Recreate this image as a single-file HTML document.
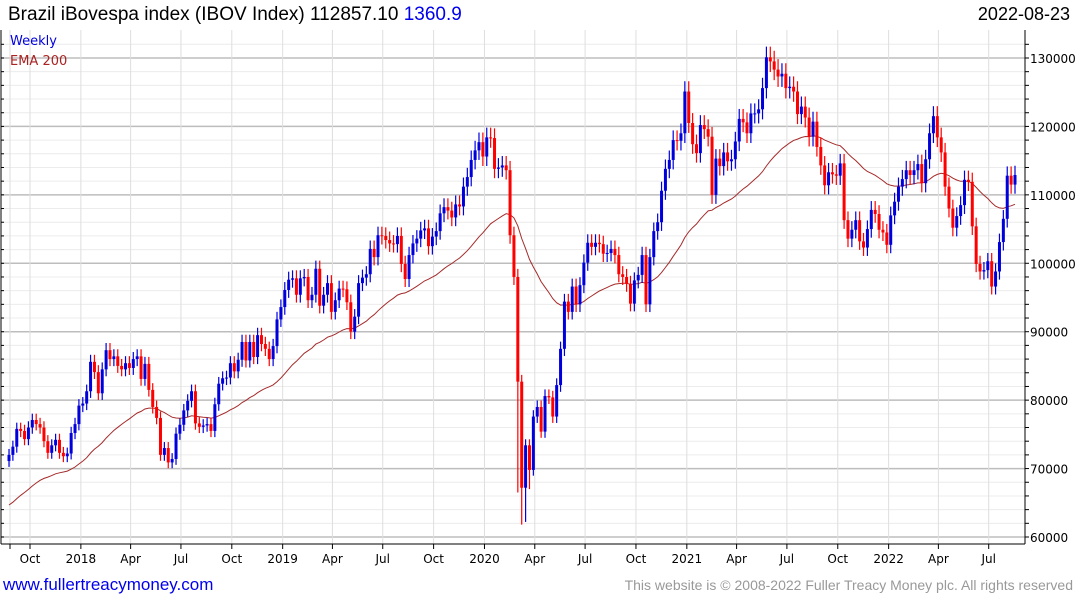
<!DOCTYPE html>
<html><head><meta charset="utf-8"><style>
html,body{margin:0;padding:0;background:#fff;}
svg{display:block;}
</style></head><body>
<svg id="chart" width="1075" height="600" xmlns="http://www.w3.org/2000/svg">
<text x="8" y="20" font-family="Liberation Sans, sans-serif" font-size="19" fill="#000">Brazil iBovespa index (IBOV Index) 112857.10 <tspan fill="#0000ee">1360.9</tspan></text>
<text x="1070" y="20" text-anchor="end" font-family="Liberation Sans, sans-serif" font-size="18" fill="#000">2022-08-23</text>
<g id="grid"></g>
<g id="ema"></g>
<g id="candles"></g>
<g id="axes"></g>
<text x="10" y="45" font-family="DejaVu Sans, sans-serif" font-size="13" fill="#0000dd">Weekly</text>
<text x="10" y="65" font-family="DejaVu Sans, sans-serif" font-size="13" fill="#aa2222">EMA 200</text>
<text x="3" y="590" font-family="Liberation Sans, sans-serif" font-size="17" fill="#0000ee">www.fullertreacymoney.com</text>
<text x="1073" y="590" text-anchor="end" font-family="Liberation Sans, sans-serif" font-size="14" fill="#999">This website is © 2008-2022 Fuller Treacy Money plc. All rights reserved</text>
</svg>
<script>
const closes = [
72.0,73.2,75.8,75.5,74.3,76.0,77.1,76.5,76.0,74.0,72.3,73.4,74.2,72.3,71.8,72.2,75.2,76.5,79.2,79.5,
81.3,85.6,84.1,81.0,84.5,87.3,86.0,86.4,85.0,84.5,85.4,84.7,86.0,86.4,83.1,85.3,81.5,79.0,77.4,72.0,
73.0,70.9,71.4,75.1,76.4,78.5,79.9,81.3,76.6,76.1,76.3,76.5,75.5,79.4,82.4,83.2,83.3,85.4,84.2,
85.9,88.5,85.8,88.5,86.3,89.5,88.2,87.5,86.0,87.9,91.8,93.6,96.1,97.6,97.8,95.4,97.8,98.0,94.6,95.4,
99.2,93.8,95.4,97.1,92.9,94.6,96.3,96.2,94.3,90.0,92.2,97.1,97.9,98.4,102.1,100.9,104.1,104.0,103.4,102.9,
102.8,104.0,99.9,97.7,101.2,102.9,103.6,104.8,105.1,102.5,103.9,104.7,107.3,108.2,107.7,106.7,108.6,108.3,111.2,112.6,
115.1,116.5,117.7,115.6,118.4,118.3,113.8,
114.0,114.3,113.6,104.1,98.0,82.7,67.2,73.4,69.8,77.6,79.0,75.4,80.6,80.4,77.6,82.2,87.5,94.4,92.9,96.6,
94.0,96.8,100.1,103.0,102.4,103.0,102.8,101.4,101.5,102.1,101.2,98.4,98.0,97.0,94.1,97.5,98.3,101.2,94.0,100.9,
104.7,106.0,110.6,113.8,115.1,118.0,117.9,119.0,
125.1,120.5,117.4,116.1,120.2,119.6,118.5,110.0,115.3,114.2,116.2,114.9,115.2,117.8,121.1,120.6,119.0,121.9,121.9,122.5,
125.6,130.1,129.5,128.3,127.3,127.7,125.6,125.8,125.1,121.8,122.9,121.3,118.5,120.7,117.0,114.3,111.4,113.3,113.0,112.8,
114.6,106.3,103.6,104.9,106.3,103.2,102.3,105.0,107.8,107.2,
104.9,104.5,102.7,107.0,109.0,111.2,112.3,113.6,112.9,113.6,114.5,111.7,115.2,119.0,121.5,118.4,116.2,111.2,108.0,105.2,
106.9,108.5,112.2,111.9,105.4,99.9,98.8,99.0,100.3,96.6,98.8,103.1,106.5,112.8,111.5,112.9
];
const firstOpen = [71.1];
const lowOverrideIdx = [131, 132, 133, 134];
const lowOverrideVal = [66.5, 61.8, 62.2, 67.0];
const emaSeed = [64.3];
const emaPeriod = [40];
const yTicks = [60000,70000,80000,90000,100000,110000,120000,130000];
const xTickLabels = ["Oct","2018","Apr","Jul","Oct","2019","Apr","Jul","Oct","2020","Apr","Jul","Oct","2021","Apr","Jul","Oct","2022","Apr","Jul"];
const xTickDates = ["2017-10-01","2018-01-01","2018-04-01","2018-07-01","2018-10-01","2019-01-01","2019-04-01","2019-07-01","2019-10-01","2020-01-01","2020-04-01","2020-07-01","2020-10-01","2021-01-01","2021-04-01","2021-07-01","2021-10-01","2022-01-01","2022-04-01","2022-07-01"];

const NS = "http://www.w3.org/2000/svg";
const L = 1, R = 1025, T = 30, B = 544;
function yScale(v){ return 537 - (v - 60000) / 10000 * 68.43; }
function xIdx(i){ return 9 + i * (1015 - 9) / (closes.length - 1); }
const d0 = Date.UTC(2017,9,1), d1 = Date.UTC(2022,6,1);
function xDate(s){ const p = s.split("-"); const t = Date.UTC(+p[0], +p[1]-1, +p[2]); return 30 + (t - d0) / (d1 - d0) * (988.7 - 30); }
function mk(tag, attrs, parent){ const e = document.createElementNS(NS, tag); for (const k in attrs) e.setAttribute(k, attrs[k]); parent.appendChild(e); return e; }

const grid = document.getElementById("grid");
for (let v = 60000; v <= 132000; v += 2000) {
  const y = yScale(v); if (y < T) continue;
  const major = v % 10000 === 0;
  const ln = mk("line", {x1:L, x2:R, y1:y, y2:y, stroke: major ? "#bdbdbd" : "#ececec", "stroke-width": major ? 1.5 : 1}, grid);
  
  
}
const vg0 = mk("line", {x1:10, x2:10, y1:T, y2:B, stroke:"#dedede"}, grid);


xTickDates.forEach((d) => {
  const x = xDate(d);
  const vg = mk("line", {x1:x, x2:x, y1:T, y2:B, stroke:"#dedede"}, grid);
  
  
});

// EMA
const alpha = 2 / (emaPeriod[0] + 1);
let e = emaSeed[0] * 1000, pts = [];
closes.forEach((c, i) => { e = e + alpha * (c * 1000 - e); pts.push(xIdx(i).toFixed(1) + "," + yScale(e).toFixed(1)); });
const emaLine = mk("polyline", {points: pts.join(" "), fill:"none", stroke:"#a52a2a", "stroke-width":1}, document.getElementById("ema"));



// candles
const cg = document.getElementById("candles");
closes.forEach((c, i) => {
  const o = (i === 0 ? firstOpen[0] : closes[i-1]) * 1000;
  const cl = c * 1000;
  const hi = Math.max(o, cl) * 1.012;
  let lo = Math.min(o, cl) * 0.988;
  const k = lowOverrideIdx.indexOf(i);
  if (k >= 0) lo = lowOverrideVal[k] * 1000;
  const col = cl >= o ? "#0000dd" : "#ff0000";
  const x = xIdx(i);
  const g = mk("g", {}, cg);
  
  
  mk("line", {x1:x, x2:x, y1:yScale(hi), y2:yScale(lo), stroke:col, "stroke-width":1.2}, g);
  const top = yScale(Math.max(o, cl)), bot = yScale(Math.min(o, cl));
  mk("rect", {x:x-1.5, y:top, width:3, height:Math.max(1, bot-top), fill:col}, g);
});

// axes
const ax = document.getElementById("axes");
mk("line", {x1:L, x2:L, y1:T, y2:B, stroke:"#000"}, ax);
mk("line", {x1:R, x2:R, y1:T, y2:B, stroke:"#000"}, ax);
mk("line", {x1:L, x2:R, y1:B, y2:B, stroke:"#000"}, ax);
for (let v = 60000; v <= 132000; v += 2000) {
  const y = yScale(v); if (y < T) continue;
  mk("line", {x1:R, x2:R+4, y1:y, y2:y, stroke:"#000"}, ax);
  mk("line", {x1:L, x2:L+3, y1:y, y2:y, stroke:"#000"}, ax);
}
yTicks.forEach((v) => {
  const t = mk("text", {x:1030, y:yScale(v)+5, "font-family":"DejaVu Sans, sans-serif", "font-size":"12", fill:"#000"}, ax);
  t.textContent = String(v);
  
  
});
xTickDates.forEach((d, k) => {
  const x = xDate(d);
  mk("line", {x1:x, x2:x, y1:B, y2:B+5, stroke:"#000"}, ax);
  const t = mk("text", {x:x, y:563, "text-anchor":"middle", "font-family":"DejaVu Sans, sans-serif", "font-size":"12", fill:"#000"}, ax);
  t.textContent = xTickLabels[k];
  
  
});
mk("line", {x1:10, x2:10, y1:B, y2:B+5, stroke:"#000"}, ax);
</script>
</body></html>
